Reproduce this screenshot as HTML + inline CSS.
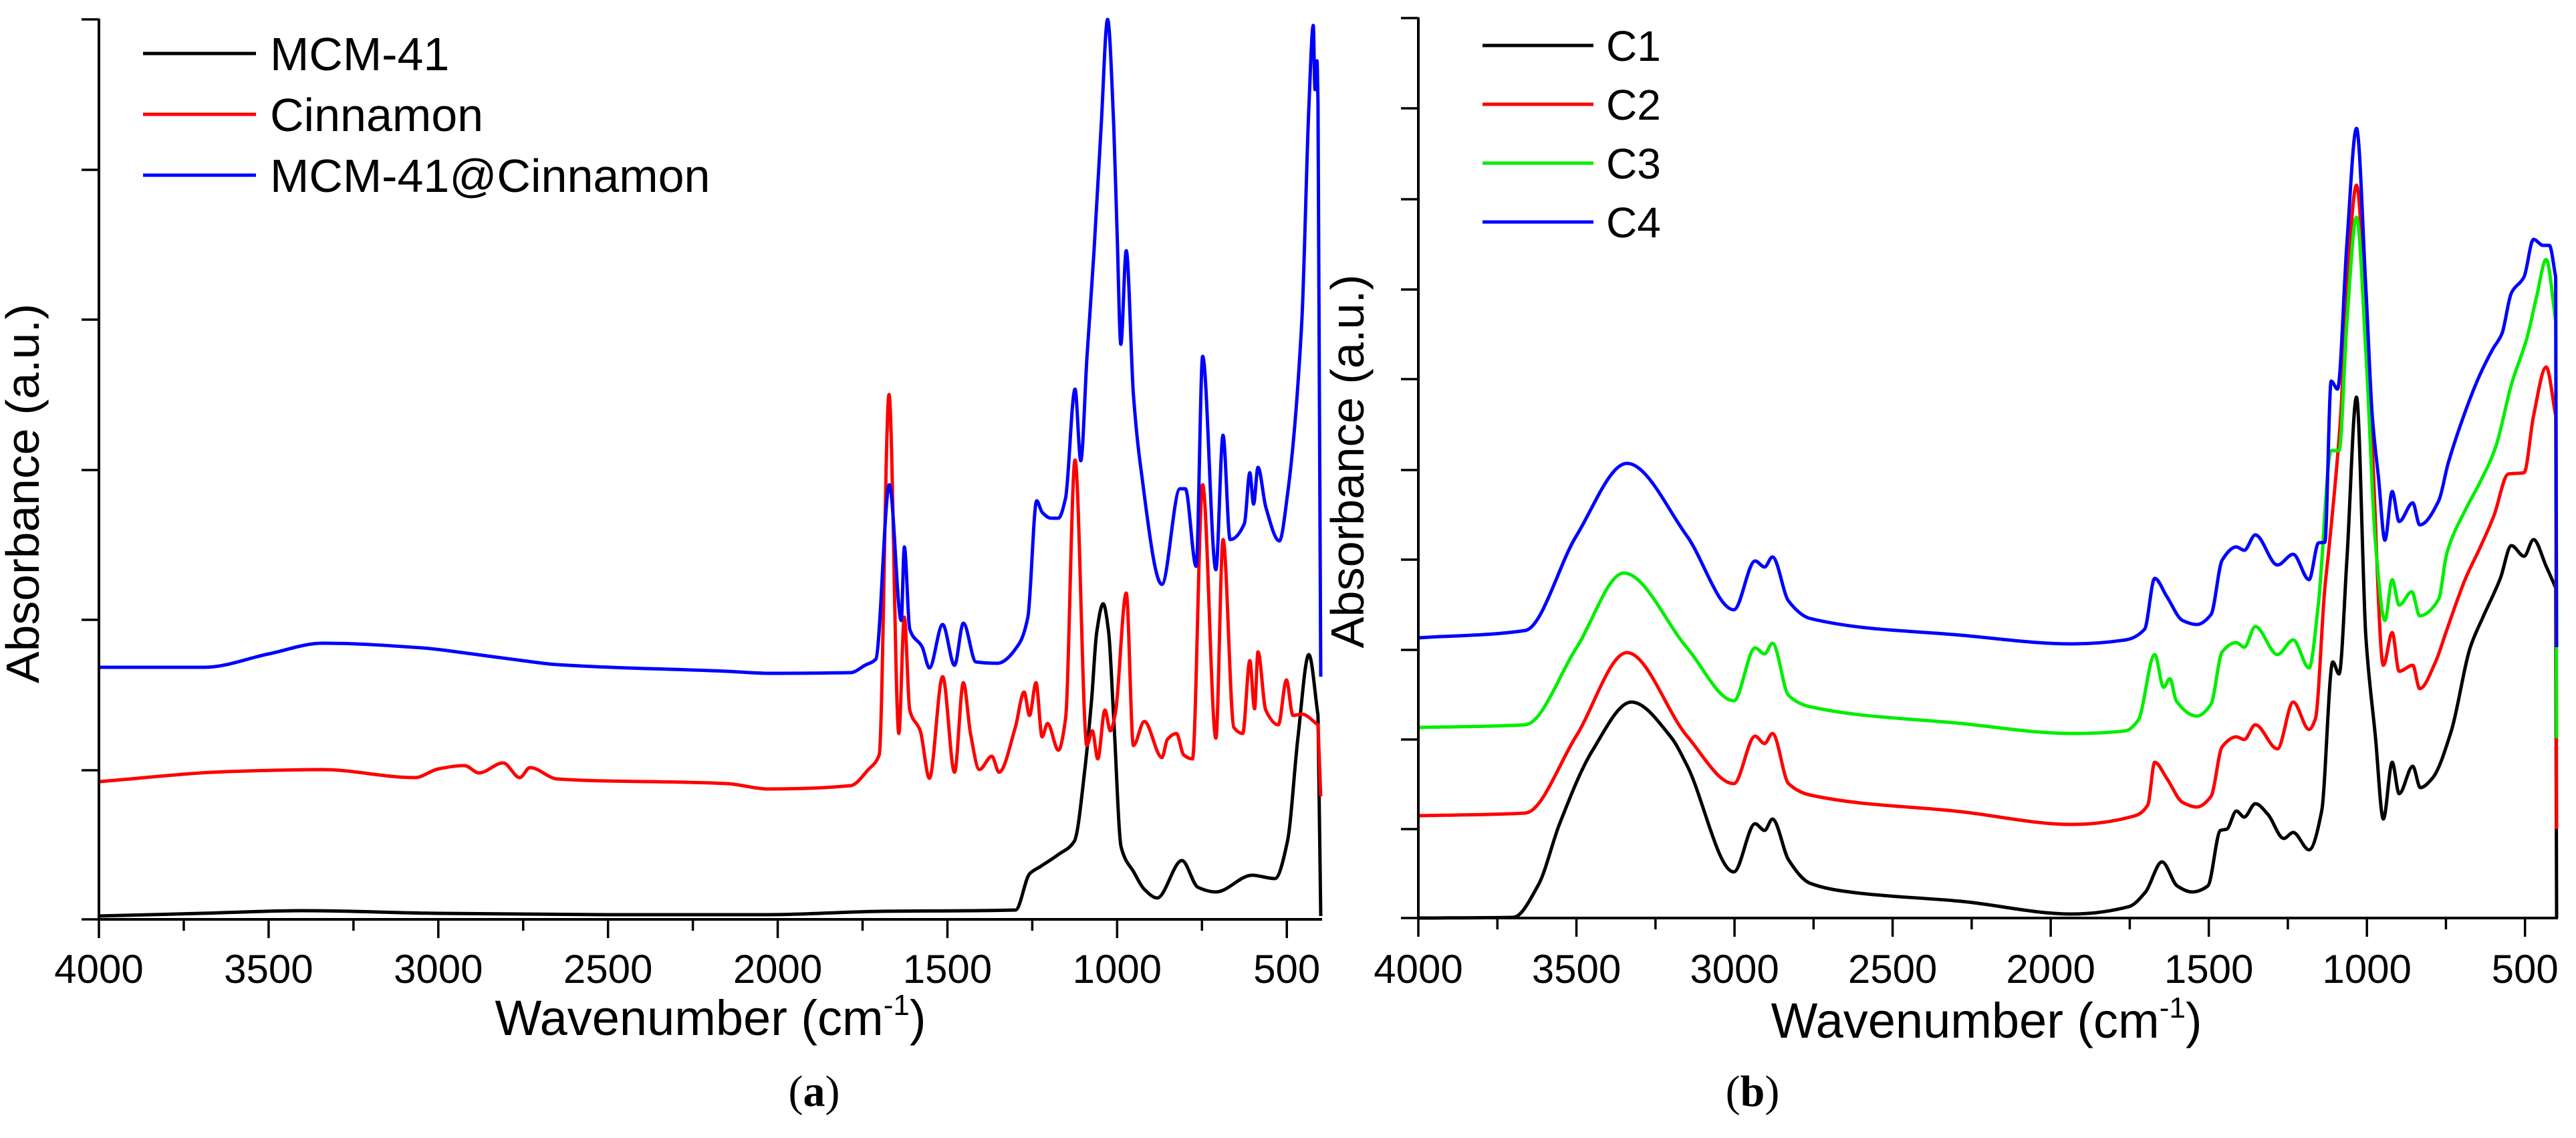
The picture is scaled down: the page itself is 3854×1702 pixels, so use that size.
<!DOCTYPE html>
<html><head><meta charset="utf-8"><style>
html,body{margin:0;padding:0;background:#fff;}
svg{display:block;}
text{font-family:"Liberation Sans",sans-serif;fill:#000;}
</style></head><body>
<svg id="fig" width="3854" height="1702" viewBox="0 0 3854 1702" xmlns="http://www.w3.org/2000/svg">
<rect width="3854" height="1702" fill="#fff"/>
<g id="panelA"></g>
<g id="panelB"></g>
</svg>
<script>
// ---------- Panel (a) data: wavenumber (cm-1) and absorbance (a.u.) ----------
const aMcmW = [4000,3700,3400,3000,2500,2028,1700,1299,1258,1226,1173,1126,1094,1075,1060,1041,1025,1010,988,950,920,882,809,762,709,602,535,498,467,435,408,400];
const aMcmV = [0.05,0.09,0.13,0.09,0.07,0.07,0.12,0.14,0.68,0.79,0.97,1.17,2.29,3.3,4.3,4.72,4.3,3.0,1.08,0.7,0.45,0.32,0.88,0.48,0.41,0.66,0.61,1.17,2.73,3.96,3.05,0.05];
const aCinW = [4000,3620,3342,3069,3000,2923,2880,2809,2760,2730,2650,2148,2028,1785,1733,1701,1672,1643,1627,1611,1580,1553,1514,1479,1453,1432,1406,1369,1348,1300,1274,1258,1239,1221,1205,1173,1152,1124,1089,1073,1057,1036,1020,1005,973,952,920,868,852,825,804,778,748,709,688,656,630,609,595,585,562,525,501,482,456,408,400];
const aCinV = [2.06,2.21,2.24,2.12,2.25,2.30,2.19,2.34,2.12,2.27,2.10,2.03,1.95,2.00,2.24,2.46,7.85,2.78,4.52,3.13,2.82,2.11,3.63,2.20,3.54,2.78,2.24,2.44,2.20,2.87,3.40,3.05,3.54,2.73,2.93,2.53,3.00,6.87,2.60,2.82,2.40,3.13,2.82,3.09,4.88,2.60,2.96,2.42,2.69,2.78,2.46,2.40,6.5,2.71,5.68,2.87,2.78,3.87,3.15,4.00,3.13,2.91,3.58,3.05,3.07,2.91,1.84];
const aMixW = [4000,3689,3500,3342,3047,2900,2752,2650,2148,2028,1785,1743,1711,1671,1636,1627,1611,1574,1553,1514,1479,1453,1416,1353,1289,1263,1237,1221,1195,1173,1152,1124,1107,1089,1068,1047,1028,1010,1000,989,973,952,931,868,815,799,767,748,709,688,667,625,609,598,585,562,522,498,456,435,422,417,411,408,400];
const aMixV = [3.77,3.77,3.97,4.13,4.06,3.97,3.87,3.81,3.71,3.68,3.69,3.80,3.89,6.50,4.47,5.57,4.34,4.07,3.76,4.41,3.80,4.43,3.85,3.83,4.12,4.52,6.26,6.09,6.00,6.00,6.30,7.93,6.86,8.39,10.0,11.87,13.46,11.87,10.27,8.60,10.0,7.85,6.78,5.01,6.44,6.44,5.28,8.42,5.23,7.24,5.68,5.92,6.68,6.21,6.76,6.17,5.66,6.35,8.93,12.14,13.37,12.41,12.84,12.2,3.63];
const aLegend = ["MCM-41","Cinnamon","MCM-41@Cinnamon"];
const aYTicks = [13.46,11.21,8.97,6.72,4.48,2.23,0];

// ---------- Panel (b) data ----------
const bC1W = [4000,3700,3620,3554,3450,3326,3200,3150,3002,2935,2905,2880,2829,2761,2620,2283,1933,1753,1700,1648,1600,1553,1503,1463,1443,1413,1388,1353,1313,1263,1233,1183,1143,1108,1088,1063,1033,1003,973,948,920,898,855,831,793,733,673,633,578,543,503,473,433,403,400];
const bC1V = [0,0.01,0.5,1.40,2.5,3.23,2.7,2.28,0.69,1.41,1.31,1.48,0.87,0.52,0.38,0.25,0.06,0.17,0.39,0.84,0.48,0.39,0.48,1.31,1.33,1.60,1.51,1.71,1.55,1.19,1.28,1.02,1.60,3.83,3.65,5.39,7.79,4.19,2.71,1.48,2.33,1.86,2.27,1.95,2.09,2.80,4.05,4.50,5.08,5.57,5.41,5.66,5.26,4.94,0];
const bC2W = [4000,3662,3501,3340,3150,3002,2935,2905,2880,2829,2761,2283,1933,1733,1693,1671,1633,1583,1538,1493,1458,1413,1388,1353,1283,1233,1183,1163,1133,1123,1113,1083,1063,1033,1003,983,948,920,898,855,833,783,748,688,643,598,553,503,473,433,403,400];
const bC2V = [1.53,1.57,2.72,3.97,2.72,2.01,2.72,2.61,2.76,2.01,1.84,1.59,1.40,1.53,1.69,2.33,2.09,1.73,1.66,1.82,2.56,2.71,2.67,2.89,2.53,3.23,2.82,2.98,4.94,5.39,5.86,7.51,9.40,10.96,8.93,7.04,3.78,4.27,3.69,3.78,3.43,3.83,4.30,5.08,5.53,6.02,6.64,6.66,7.51,8.24,7.51,1.33];
const bC3W = [4000,3662,3500,3350,3150,3002,2935,2905,2880,2829,2761,2283,1933,1763,1723,1671,1643,1623,1603,1538,1493,1458,1413,1388,1353,1283,1233,1183,1153,1113,1088,1063,1033,1003,973,943,920,898,858,833,773,748,688,643,593,543,493,463,433,403,400];
const bC3V = [2.85,2.89,4.04,5.16,4.04,3.25,4.04,3.95,4.11,3.33,3.16,2.91,2.76,2.80,2.96,3.94,3.45,3.58,3.25,3.02,3.20,3.98,4.12,4.05,4.36,3.94,4.16,3.74,4.72,6.99,6.99,8.93,10.48,8.45,5.62,4.45,5.06,4.68,4.88,4.52,4.77,5.44,6.11,6.51,7.04,7.98,8.69,9.30,9.85,8.93,2.69];
const bC4W = [4000,3662,3501,3340,3150,3002,2935,2905,2880,2829,2761,2283,1933,1763,1703,1671,1633,1583,1538,1493,1458,1413,1388,1353,1283,1233,1183,1153,1133,1113,1093,1063,1033,1003,983,963,943,920,898,855,833,773,743,683,643,603,573,543,503,473,443,423,403,400];
const bC4V = [4.19,4.30,5.71,6.80,5.71,4.61,5.34,5.25,5.40,4.74,4.48,4.23,4.10,4.16,4.32,5.08,4.81,4.45,4.39,4.54,5.35,5.55,5.50,5.73,5.28,5.44,5.06,5.61,5.62,8.03,7.91,10.11,11.81,9.40,7.51,6.57,5.65,6.38,5.93,6.21,5.88,6.24,6.80,7.65,8.12,8.50,8.74,9.35,9.59,10.15,10.06,10.06,9.59,4.05];
const bLegend = ["C1","C2","C3","C4"];
const bYTicks = [13.46,12.11,10.75,9.40,8.06,6.70,5.36,4.01,2.67,1.33,0];

const xTickLabels = [4000,3500,3000,2500,2000,1500,1000,500];
const NS = "http://www.w3.org/2000/svg";
function mk(parent, tag, attrs){ const e=document.createElementNS(NS,tag); for(const k in attrs) e.setAttribute(k,attrs[k]); parent.appendChild(e); return e; }

// monotone cubic path through points with strictly increasing x
function monoPath(px, py){
  const n = px.length;
  if(n < 3){ let d=""; for(let i=0;i<n;i++) d+=(i?"L":"M")+px[i].toFixed(1)+" "+py[i].toFixed(1); return d; }
  const dx=[], s=[];
  for(let i=0;i<n-1;i++){ dx.push(px[i+1]-px[i]); s.push((py[i+1]-py[i])/dx[i]); }
  const m=[s[0]];
  for(let i=1;i<n-1;i++){
    if(s[i-1]*s[i] <= 0) m.push(0);
    else { const w1=2*dx[i]+dx[i-1], w2=dx[i]+2*dx[i-1]; m.push((w1+w2)/(w1/s[i-1]+w2/s[i])); }
  }
  m.push(s[n-2]);
  let d="M"+px[0].toFixed(1)+" "+py[0].toFixed(1);
  for(let i=0;i<n-1;i++){
    const h=dx[i];
    d+="C"+(px[i]+h/3).toFixed(1)+" "+(py[i]+m[i]*h/3).toFixed(1)+" "+(px[i+1]-h/3).toFixed(1)+" "+(py[i+1]-m[i+1]*h/3).toFixed(1)+" "+px[i+1].toFixed(1)+" "+py[i+1].toFixed(1);
  }
  return d;
}

function drawPanel(g, cfg){
  const xs = w => cfg.x0 + (4000 - w) * (cfg.x1 - cfg.x0) / 3600;
  const ys = v => cfg.yb - v * 100;
  cfg.series.forEach((s,i)=>{
    const n = s.w.length;
    const px = s.w.slice(0,n-1).map(xs), py = s.v.slice(0,n-1).map(ys);
    let d = monoPath(px, py);
    d += "L" + xs(s.w[n-1]).toFixed(1) + " " + ys(s.v[n-1]).toFixed(1);
    const p = mk(g,"path",{d:d,fill:"none",stroke:s.color,"stroke-width":5,"stroke-linejoin":"round"});
    
    
  });
  const ax = mk(g,"g",{});
  
  
  mk(ax,"line",{x1:cfg.x0,y1:cfg.top,x2:cfg.x0,y2:cfg.yb+2,stroke:"#000","stroke-width":4});
  mk(ax,"line",{x1:cfg.x0-2,y1:cfg.yb,x2:cfg.x1+2,y2:cfg.yb,stroke:"#000","stroke-width":4});
  cfg.yticks.forEach(v=>{
    const t = mk(ax,"line",{x1:cfg.x0-26,y1:ys(v),x2:cfg.x0,y2:ys(v),stroke:"#000","stroke-width":3.5});
    
    
  });
  for(let w=4000; w>=500; w-=250){
    const major = (w % 500 === 0);
    const t = mk(ax,"line",{x1:xs(w),y1:cfg.yb,x2:xs(w),y2:cfg.yb+(major?28:17),stroke:"#000","stroke-width":3.5});
    
    
  }
  xTickLabels.forEach(w=>{
    const t = mk(ax,"text",{x:xs(w),y:1470,"font-size":60,"text-anchor":"middle"});
    t.textContent = w;
    
    
  });
  const yt = mk(g,"text",{x:0,y:0,"font-size":70,"text-anchor":"middle",transform:"translate("+(cfg.ytx+24)+","+cfg.yty+") rotate(-90)",textLength:cfg.ytLen,lengthAdjust:"spacingAndGlyphs"});
  yt.textContent = "Absorbance (a.u.)";
  
  
  const xt = mk(g,"text",{x:cfg.xtx,y:cfg.xty,"font-size":74,"text-anchor":"middle"});
  
  
  xt.appendChild(document.createTextNode("Wavenumber (cm"));
  const sup = mk(xt,"tspan",{"font-size":44,dy:-30}); sup.textContent = "-1";
  const cl = mk(xt,"tspan",{dy:30}); cl.textContent = ")";
  cfg.series.forEach((s,i)=>{
    const y = cfg.legY + i*cfg.legStep;
    const lg = mk(g,"g",{});
    
    
    mk(lg,"line",{x1:cfg.legX1,y1:y,x2:cfg.legX2,y2:y,stroke:s.color,"stroke-width":5});
    const t = mk(lg,"text",{x:cfg.legTx,y:y+cfg.legFs*0.36,"font-size":cfg.legFs});
    t.textContent = cfg.labels[i];
  });
  const pl = mk(g,"text",{x:cfg.plx,y:1654,"font-size":66,"text-anchor":"middle","style":"font-family:'Liberation Serif',serif"});
  
  
  pl.appendChild(document.createTextNode("("));
  const b = mk(pl,"tspan",{"font-weight":"bold"}); b.textContent = cfg.plabel;
  pl.appendChild(document.createTextNode(")"));
}

drawPanel(document.getElementById("panelA"), {
  x0:148, x1:1976, yb:1375, top:28, yticks:aYTicks,
  ytx:34, yty:738, ytLen:568, xtx:1063, xty:1548,
  legX1:214, legX2:383, legTx:404, legY:80, legStep:91, legFs:70, labels:aLegend,
  plx:1218, plabel:"a",
  series:[
    {name:"MCM-41", w:aMcmW, v:aMcmV, color:"#000000"},
    {name:"Cinnamon", w:aCinW, v:aCinV, color:"#ff0000"},
    {name:"MCM-41@Cinnamon", w:aMixW, v:aMixV, color:"#0000ff"}
  ]
});
drawPanel(document.getElementById("panelB"), {
  x0:2122, x1:3825, yb:1373, top:26, yticks:bYTicks,
  ytx:2016, yty:690, ytLen:559, xtx:2972, xty:1552,
  legX1:2218, legX2:2384, legTx:2403, legY:68, legStep:88, legFs:64, labels:bLegend,
  plx:2622, plabel:"b",
  series:[
    {name:"C1", w:bC1W, v:bC1V, color:"#000000"},
    {name:"C2", w:bC2W, v:bC2V, color:"#ff0000"},
    {name:"C3", w:bC3W, v:bC3V, color:"#00ee00"},
    {name:"C4", w:bC4W, v:bC4V, color:"#0000ff"}
  ]
});
</script>
</body></html>
